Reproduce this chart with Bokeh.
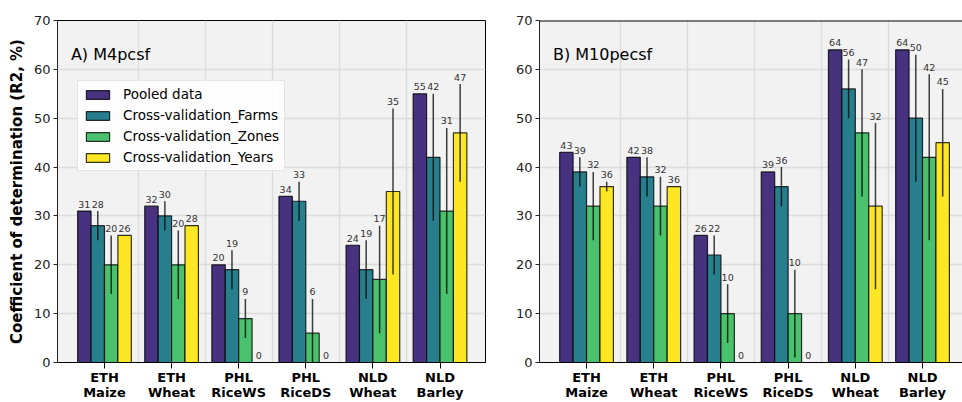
from bokeh.plotting import figure
from bokeh.models import Range1d, FixedTicker, Label, Span, ColumnDataSource
from bokeh.layouts import row
from bokeh.embed import file_html
from bokeh.resources import INLINE
from bokeh.core.properties import value

# ---------------- data ----------------
crops = ["ETH\nMaize", "ETH\nWheat", "PHL\nRiceWS", "PHL\nRiceDS", "NLD\nWheat", "NLD\nBarley"]
series = ["Pooled data", "Cross-validation_Farms", "Cross-validation_Zones", "Cross-validation_Years"]
colors = ["#46327e", "#277f8e", "#4ac16d", "#fde725"]

# Panel A) M4pcsf
a_pooled = [31, 32, 20, 34, 24, 55]
a_farms = [28, 30, 19, 33, 19, 42]
a_zones = [20, 20, 9, 6, 17, 31]
a_years = [26, 28, 0, 0, 35, 47]
a_pooled_err = [0, 0, 0, 0, 0, 0]
a_farms_err = [3, 3, 4, 4, 6, 13]
a_zones_err = [6, 7, 4, 7, 11, 17]
a_years_err = [0, 0, 0, 0, 17, 10]

# Panel B) M10pecsf
b_pooled = [43, 42, 26, 39, 64, 64]
b_farms = [39, 38, 22, 36, 56, 50]
b_zones = [32, 32, 10, 10, 47, 42]
b_years = [36, 36, 0, 0, 32, 45]
b_pooled_err = [0, 0, 0, 0, 0, 0]
b_farms_err = [3, 4, 4, 4, 6, 13]
b_zones_err = [7, 6, 6, 9, 13, 17]
b_years_err = [1, 0, 0, 0, 17, 11]

y_ticks = [0, 10, 20, 30, 40, 50, 60, 70]

offsets = [-0.3, -0.1, 0.1, 0.3]
BAR_W = 0.2
FONT = "DejaVu Sans"


def make_panel(vals, errs, title, width, x_end, min_left, min_right, ylabel=None, legend=False, outline=True):
    p = figure(width=width, height=402, output_backend="svg", toolbar_location=None,
               x_range=Range1d(-0.70, x_end), y_range=Range1d(0, 70),
               min_border_left=min_left, min_border_right=min_right,
               min_border_top=20, min_border_bottom=39)
    p.background_fill_color = "#f2f2f2"
    p.border_fill_color = "white"
    if outline:
        p.outline_line_color = "black"
        p.outline_line_width = 1
    else:
        p.outline_line_color = None
        p.add_layout(Span(location=70, dimension="width", line_color="black", line_width=2))

    # grid
    p.xgrid.ticker = FixedTicker(ticks=[0.5, 1.5, 2.5, 3.5, 4.5])
    p.ygrid.ticker = FixedTicker(ticks=y_ticks)
    p.xgrid.grid_line_color = "#dcdcdc"
    p.ygrid.grid_line_color = "#dcdcdc"
    p.xgrid.grid_line_width = 1.5
    p.ygrid.grid_line_width = 1.5

    # axes
    p.xaxis.ticker = FixedTicker(ticks=list(range(len(crops))))
    p.xaxis.major_label_overrides = {i: c for i, c in enumerate(crops)}
    p.xaxis.major_label_text_font = FONT
    p.xaxis.major_label_text_font_style = "bold"
    p.xaxis.major_label_text_font_size = "13px"
    p.xaxis.major_label_text_color = "black"
    p.xaxis.major_label_text_line_height = 1.0
    p.xaxis.major_label_standoff = 1
    p.xaxis.major_tick_out = 6
    p.xaxis.major_tick_in = 0
    p.xaxis.minor_tick_line_color = None
    p.xaxis.axis_line_color = "black"
    p.xaxis.major_tick_line_color = "black"

    p.yaxis.ticker = FixedTicker(ticks=y_ticks)
    p.yaxis.major_label_text_font = FONT
    p.yaxis.major_label_text_font_size = "13px"
    p.yaxis.major_label_text_color = "#222222"
    p.yaxis.major_label_standoff = 3
    p.yaxis.major_tick_out = 4
    p.yaxis.major_tick_in = 0
    p.yaxis.minor_tick_line_color = None
    p.yaxis.axis_line_color = "#222222"
    p.yaxis.major_tick_line_color = "#222222"
    if ylabel:
        p.yaxis.axis_label = ylabel
        p.yaxis.axis_label_text_font = FONT
        p.yaxis.axis_label_text_font_style = "bold"
        p.yaxis.axis_label_text_font_size = "15px"
        p.yaxis.axis_label_text_color = "black"
        p.yaxis.axis_label_standoff = 5

    # bars, error bars, value labels
    for k, (s, c) in enumerate(zip(series, colors)):
        xs = [i + offsets[k] for i in range(len(crops))]
        v = vals[k]
        e = errs[k]
        src = ColumnDataSource(dict(x=xs, top=v))
        kw = dict(legend_label=s) if legend else {}
        p.vbar(x="x", top="top", width=BAR_W, bottom=0, source=src,
               fill_color=c, line_color="black", line_width=1.2, line_alpha=0.8, **kw)
        ex = [xs[i] for i in range(len(v)) if e[i] > 0]
        elo = [v[i] - e[i] for i in range(len(v)) if e[i] > 0]
        ehi = [v[i] + e[i] for i in range(len(v)) if e[i] > 0]
        if ex:
            p.segment(x0=ex, y0=elo, x1=ex, y1=ehi, line_color="black", line_alpha=0.75, line_width=1.5)
        tsrc = ColumnDataSource(dict(x=xs, y=[v[i] + e[i] for i in range(len(v))],
                                     t=[str(val) for val in v]))
        p.text(x="x", y="y", text="t", source=tsrc, text_align="center", text_baseline="middle",
               y_offset=-7, text_font=value(FONT), text_font_size="9.5px", text_color="#333333")

    p.add_layout(Label(x=-0.5, y=63, text=title, text_font=FONT, text_font_size="16px",
                       text_color="black", text_baseline="alphabetic", text_align="left"))

    if legend:
        lg = p.legend[0]
        lg.location = (20, 191)
        lg.label_text_font = FONT
        lg.label_text_font_size = "13.5px"
        lg.label_text_color = "black"
        lg.glyph_width = 29
        lg.glyph_height = 11
        lg.label_height = 16
        lg.label_standoff = 11
        lg.spacing = 5
        lg.padding = 5
        lg.margin = 0
        lg.border_line_color = "#cccccc"
        lg.border_line_width = 1
        lg.background_fill_color = "white"
        lg.background_fill_alpha = 0.85
    return p


pa = make_panel([a_pooled, a_farms, a_zones, a_years],
                [a_pooled_err, a_farms_err, a_zones_err, a_years_err],
                "A) M4pcsf", width=500, x_end=5.678, min_left=57, min_right=15,
                ylabel="Coefficient of determination (R2, %)", legend=True, outline=True)
pb = make_panel([b_pooled, b_farms, b_zones, b_years],
                [b_pooled_err, b_farms_err, b_zones_err, b_years_err],
                "B) M10pecsf", width=462, x_end=5.595, min_left=39, min_right=0,
                legend=False, outline=False)

layout = row(pa, pb)
open("out.html", "w").write(file_html(layout, INLINE))
